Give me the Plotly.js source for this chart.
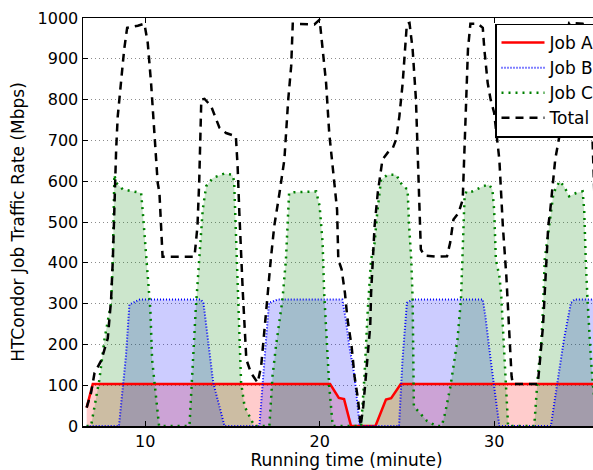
<!DOCTYPE html>
<html>
<head>
<meta charset="utf-8">
<script src="https://cdn.plot.ly/plotly-3.0.1.min.js"></script>
<style>
html, body { margin: 0; padding: 0; overflow: hidden; background: #fff; }
#chart { width: 620px; height: 470px; }
</style>
</head>
<body>
<div id="chart"></div>
<script>
// Job A (red)
const timeA = [6.65, 7.0, 20.6, 21.1, 21.4, 21.8, 23.2, 23.8, 24.1, 24.65, 36.64];
const rateA = [45, 103, 103, 69, 66, 0, 0, 65, 68, 103, 103];

// Job B (blue)
const timeB = [6.65, 8.5, 8.9, 9.1, 9.7, 13.2, 13.35, 13.6, 13.9, 14.55, 16.55, 16.9, 17.1, 17.6,
  21.3, 21.5, 21.7, 22.0, 22.3, 24.55, 24.75, 25.0, 25.35, 29.35, 29.5, 29.8, 30.1, 30.3,
  33.25, 33.65, 34.0, 34.4, 34.6, 36.64];
const rateB = [0, 0, 171, 298, 310, 310, 300, 212, 107, 0, 0, 196, 302, 310,
  310, 261, 196, 122, 0, 0, 163, 302, 310, 310, 269, 163, 65, 0,
  0, 114, 212, 302, 310, 310];

// Job C (green)
const timeC = [6.65, 6.9, 7.38, 7.67, 8.05, 8.15, 8.24, 8.34, 8.72, 9.77, 9.87, 9.93, 10.1, 10.3, 10.4, 10.6, 10.8,
  12.54, 12.73, 12.9, 13.1, 13.3, 13.5, 13.88, 14.55, 15.0, 15.1, 15.24, 15.33, 15.43, 15.5, 15.7, 16.26,
  17.12, 17.3, 17.5, 17.87, 18.07, 18.2, 18.25, 18.55, 19.8, 20.0, 20.17, 20.26, 20.46, 20.55, 20.75,
  22.38, 22.57, 22.76, 22.95, 23.15, 23.3, 23.52, 23.9, 24.38, 24.76, 25.04, 25.13, 25.25, 25.33, 25.4, 26.16, 26.7,
  27.0, 27.2, 27.5, 27.9, 28.1, 28.2, 28.3, 28.4, 28.75, 29.4, 29.7, 29.9, 30.0, 30.1, 30.3, 30.4, 30.5, 30.6, 30.7, 30.8,
  32.3, 32.5, 32.7, 32.8, 32.9, 33.2, 33.4, 33.75, 34.0, 34.3, 34.7, 35.07, 35.16, 35.25, 35.35, 35.55, 35.65, 35.9, 36.64];
const rateC = [0, 0, 114, 212, 302, 408, 616, 596, 580, 571, 522, 490, 384, 285, 163, 82, 0,
  0, 163, 285, 408, 530, 588, 608, 619, 616, 600, 408, 285, 163, 106, 48, 0,
  0, 122, 196, 310, 408, 506, 571, 573, 575, 539, 449, 326, 163, 98, 0,
  0, 122, 285, 408, 449, 522, 604, 616, 616, 588, 580, 490, 408, 310, 48, 12, 0,
  0, 33, 98, 212, 310, 433, 555, 575, 575, 588, 592, 580, 530, 408, 367, 326, 245, 163, 81, 0,
  0, 122, 204, 285, 408, 506, 571, 600, 588, 563, 571, 575, 530, 408, 310, 163, 106, 0, 0];

// Total (black)
const timeT = [6.65, 6.9, 7.1, 7.48, 7.86, 8.05, 8.15, 8.24, 8.34, 8.43, 8.62, 8.8, 8.97, 9.58, 9.96, 10.15, 10.34, 10.53, 10.72, 10.82, 10.92, 11.0,
  12.83, 13.0, 13.1, 13.15, 13.22, 13.4, 13.78, 14.26, 14.64, 15.2, 15.3, 15.4, 15.5, 15.6, 15.7, 15.8, 16.07, 16.45,
  16.65, 16.84, 17.03, 17.2, 17.4, 17.7, 17.98, 18.2, 18.37, 18.46, 19.7, 20.0, 20.17, 20.37, 20.55, 20.84, 21.0, 21.07, 21.26, 21.45, 21.6, 21.83, 22.0, 22.2, 22.35,
  22.5, 22.7, 22.9, 22.95, 23.04, 23.15, 23.33, 23.6, 23.9, 24.2, 24.38, 24.57, 24.76, 24.9, 25.0, 25.15, 25.33, 25.52, 25.62, 25.7, 25.75, 25.8, 26.0, 26.7, 27.3,
  27.48, 27.67, 27.96, 28.2, 28.3, 28.4, 28.5, 28.64, 29.06, 29.35, 29.44, 29.63, 29.8, 30.0, 30.3, 30.4, 30.5, 30.7, 30.8, 30.87, 31.0, 31.07, 32.5,
  32.6, 32.8, 32.9, 33.0, 33.1, 33.2, 33.3, 33.5, 33.77, 33.87, 34.0, 34.3, 35.07, 35.45, 35.6, 35.75, 35.9, 36.64];
const rateT = [45, 81, 130, 160, 215, 310, 408, 571, 678, 759, 841, 923, 976, 981, 986, 939, 841, 718, 596, 572, 490, 415,
  415, 490, 600, 700, 800, 802, 784, 731, 718, 710, 637, 522, 408, 326, 245, 163, 130, 106,
  147, 245, 326, 408, 490, 571, 653, 800, 882, 986, 984, 996, 931, 841, 718, 596, 530, 408, 384, 326, 261, 196, 122, 65, 0,
  48, 147, 245, 326, 408, 490, 571, 653, 670, 682, 702, 759, 841, 923, 986, 988, 923, 800, 678, 555, 473, 433, 418, 415, 416,
  449, 506, 522, 555, 702, 800, 923, 986, 986, 976, 923, 841, 800, 768, 653, 571, 490, 367, 285, 204, 122, 103, 103,
  147, 245, 326, 408, 490, 522, 571, 653, 718, 800, 900, 988, 986, 940, 740, 560, 430, 413];

const seriesNames = ["Job A", "Job B", "Job C", "Total"];

const font = "DejaVu Sans, sans-serif";

function fillTrace(x, y, color) {
  return { x: x, y: y, type: "scatter", mode: "lines", showlegend: false, hoverinfo: "skip",
    line: { width: 0, color: color }, fill: "tozeroy", fillcolor: color };
}

const traces = [
  fillTrace(timeA, rateA, "rgba(255,0,0,0.2)"),
  fillTrace(timeB, rateB, "rgba(0,0,255,0.2)"),
  fillTrace(timeC, rateC, "rgba(0,128,0,0.2)"),
  { x: timeA, y: rateA, name: seriesNames[0], type: "scatter", mode: "lines",
    line: { color: "#ff0000", width: 2.5 } },
  { x: timeB, y: rateB, name: seriesNames[1], type: "scatter", mode: "lines",
    line: { color: "#0000ff", width: 2, dash: "1px,2px" } },
  { x: timeC, y: rateC, name: seriesNames[2], type: "scatter", mode: "lines",
    line: { color: "#008000", width: 2.5, dash: "2px,5px" } },
  { x: timeT, y: rateT, name: seriesNames[3], type: "scatter", mode: "lines",
    line: { color: "#000000", width: 2.5, dash: "8px,6px" } }
];

const layout = {
  width: 620, height: 470,
  margin: { l: 83, r: 10, t: 18, b: 44, autoexpand: false },
  paper_bgcolor: "#ffffff", plot_bgcolor: "#ffffff",
  font: { family: font, size: 16, color: "#000" },
  showlegend: true,
  legend: {
    x: (495 - 83) / 527, y: (426.5 - 24) / 408, xanchor: "left", yanchor: "top",
    bgcolor: "#ffffff", bordercolor: "#000", borderwidth: 1.5,
    font: { family: font, size: 17, color: "#000" },
    itemwidth: 43,
    tracegroupgap: 0
  },
  xaxis: {
    range: [6.44, 36.64], tickvals: [10, 20, 30], ticktext: ["10", "20", "30"],
    showgrid: false, zeroline: false,
    showline: true, linecolor: "#000", linewidth: 1.5, mirror: "ticks",
    ticks: "inside", ticklen: 5, tickcolor: "#000", tickwidth: 1,
    tickfont: { family: font, size: 16, color: "#000" },
    title: { text: "Running time (minute)", font: { family: font, size: 17, color: "#000" }, standoff: 4 }
  },
  yaxis: {
    range: [0, 1000], tickvals: [0,100,200,300,400,500,600,700,800,900,1000],
    showgrid: true, gridcolor: "#8c8c8c", griddash: "1px,3px", gridwidth: 1,
    zeroline: false,
    showline: true, linecolor: "#000", linewidth: 1.5, mirror: "ticks",
    ticks: "inside", ticklen: 5, tickcolor: "#000", tickwidth: 1,
    tickfont: { family: font, size: 16, color: "#000" },
    title: { text: "HTCondor Job Traffic Rate (Mbps)", font: { family: font, size: 17, color: "#000" }, standoff: 8 }
  }
};

Plotly.newPlot("chart", traces, layout, { displayModeBar: false, staticPlot: true });
</script>
</body>
</html>
